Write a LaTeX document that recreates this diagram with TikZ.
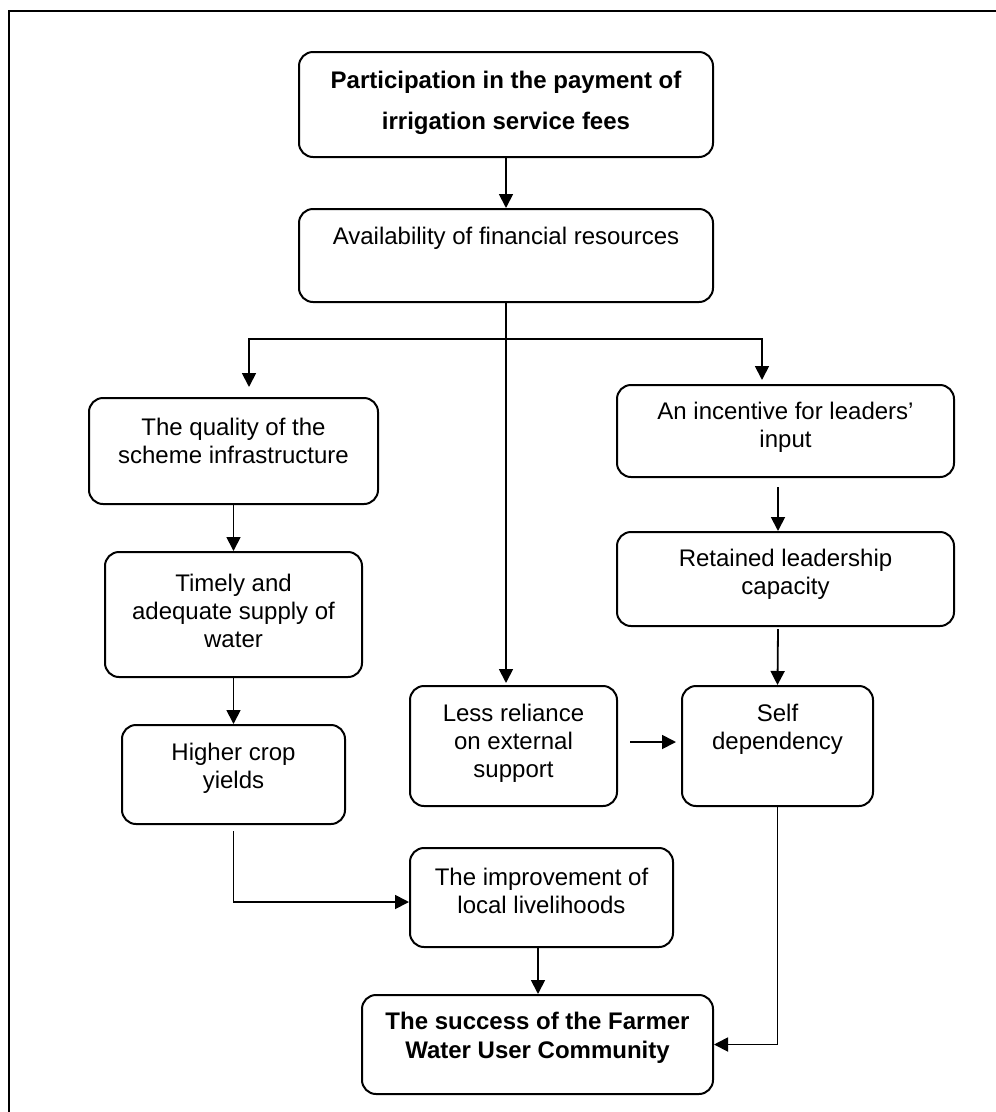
\documentclass[tikz,border=0pt]{standalone}
\usepackage{fontspec}
\setmainfont{Liberation Sans}
\usetikzlibrary{arrows.meta,calc}
\begin{document}
\begin{tikzpicture}[x=1pt,y=-1pt,
  box/.style={draw, line width=2pt, rounded corners=14pt, inner sep=0pt},
  lbl/.style={align=center, inner sep=0pt, font=\fontsize{24}{28}\selectfont},
  bold lbl/.style={lbl, font=\fontsize{24}{29}\selectfont\bfseries},
  conn/.style={line width=1.8pt, -{Triangle[length=14pt,width=14pt]}},
  plain/.style={line width=1.8pt}]
\useasboundingbox (0,0) rectangle (996,1112);

% page frame
\draw[line width=2.2pt] (9,1112) -- (9,11) -- (996,11);

% boxes
\node[box, minimum width=414pt, minimum height=105pt] (part)     at (506,104.5) {};
\node[box, minimum width=414pt, minimum height=93pt]  (avail)    at (506,255.5) {};
\node[box, minimum width=289pt, minimum height=106pt] (qual)     at (233.5,451) {};
\node[box, minimum width=257pt, minimum height=125pt] (timely)   at (233.5,614.5) {};
\node[box, minimum width=223pt, minimum height=99pt]  (higher)   at (233.5,774.5) {};
\node[box, minimum width=337pt, minimum height=92pt]  (incent)   at (785.5,431) {};
\node[box, minimum width=337pt, minimum height=94pt]  (retained) at (785.5,579) {};
\node[box, minimum width=207pt, minimum height=120pt] (less)     at (513.5,746) {};
\node[box, minimum width=191pt, minimum height=120pt] (self)     at (777.5,746) {};
\node[box, minimum width=263pt, minimum height=99pt]  (improve)  at (541.5,897.5) {};
\node[box, minimum width=351pt, minimum height=99pt]  (success)  at (537.5,1044.5) {};

% labels
\node[bold lbl, font=\fontsize{24}{41}\selectfont\bfseries] (t-part) at (506,102.5)
  {Participation in the payment of\\irrigation service fees};
\node[lbl] (t-avail)    at (506,238)    {Availability of financial resources};
\node[lbl] (t-qual)     at (233.5,441)  {The quality of the\\scheme infrastructure};
\node[lbl] (t-timely)   at (233.5,611)  {Timely and\\adequate supply of\\water};
\node[lbl] (t-higher)   at (233.5,768.5){Higher crop\\yields};
\node[lbl] (t-incent)   at (785.5,427.5){An incentive for leaders’\\input};
\node[lbl] (t-retained) at (785.5,574.5){Retained leadership\\capacity};
\node[lbl] (t-less)     at (513.5,743)  {Less reliance\\on external\\support};
\node[lbl] (t-self)     at (777.5,729)  {Self\\dependency};
\node[lbl] (t-improve)  at (541.5,890.5){The improvement of\\local livelihoods};
\node[bold lbl] (t-success) at (537.5,1037.5){The success of the Farmer\\Water User Community};

% connectors
\draw[conn] (part.south) -- (avail.north);
\coordinate (split) at (506,339);
\draw[plain] (avail.south) -- (split);
\draw[conn] (split) -| ($(qual.north)+(15.5,-10)$);
\draw[conn] (split) -| ($(incent.north)+(-23.5,-4)$);
\draw[conn] (avail.south) -- ($(avail.south |- less.north)+(0,-2)$);
\draw[conn] (qual.south) -- (timely.north);
\draw[conn] (timely.south) -- (higher.north);
\draw[conn] ($(incent.south)+(-7.5,9)$) -- ($(retained.north)+(-7.5,0)$);
\draw[conn] ($(retained.south)+(-7.5,2)$) -- (self.north);
\draw[conn] ($(less.east)+(12,-4)$) -- ($(self.west)+(-5,-4)$);
\draw[conn] ($(higher.south)+(0,6)$) |- ($(improve.west)+(0,4.5)$);
\draw[conn] ($(improve.south)+(-3.5,0)$) -- ($(success.north)+(0.5,0)$);
\draw[conn] (self.south) |- (success.east);
\end{tikzpicture}
\end{document}
